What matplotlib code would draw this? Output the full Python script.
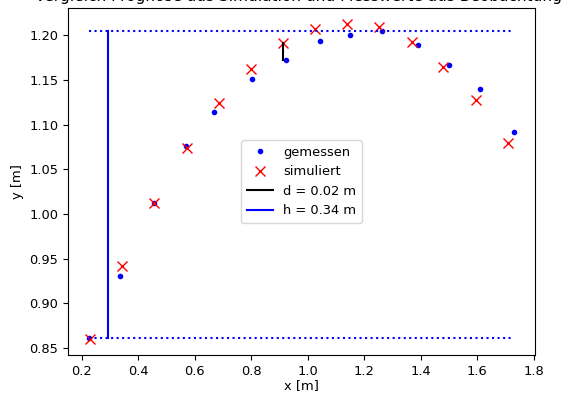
import matplotlib
matplotlib.use('Agg')
import matplotlib.pyplot as plt
import numpy as np

# measured points (blue) and simulated points (red)
x_meas = [0.226, 0.335, 0.454, 0.569, 0.668, 0.801, 0.922, 1.044, 1.150, 1.264, 1.389, 1.502, 1.609, 1.730]
y_meas = [0.861, 0.931, 1.012, 1.076, 1.114, 1.151, 1.173, 1.194, 1.200, 1.205, 1.189, 1.167, 1.140, 1.092]
x_sim = [0.228, 0.342, 0.457, 0.572, 0.685, 0.798, 0.913, 1.026, 1.140, 1.254, 1.369, 1.481, 1.596, 1.708]
y_sim = [0.860, 0.942, 1.013, 1.074, 1.124, 1.162, 1.191, 1.207, 1.213, 1.209, 1.193, 1.165, 1.128, 1.080]

# height marker position and deviation index
h_x = 0.293
d_idx = 6
d_label = 'd = 0.02 m'
h_label = 'h = 0.34 m'
title = 'Vergleich Prognose aus Simulation und Messwerte aus Beobachtung'

plt.rcParams['font.size'] = 9.4

fig = plt.figure(figsize=(5.64, 3.94), dpi=100)
ax = fig.add_axes([68/564, 39/394, 467/564, 347/394])

ax.plot(x_meas, y_meas, 'b.', label='gemessen')
ax.plot(x_sim, y_sim, 'rx', markersize=6.5, label='simuliert')

y_lo = min(y_meas)
y_hi = max(y_meas)
ax.plot([x_sim[d_idx], x_sim[d_idx]], [y_meas[d_idx], y_sim[d_idx]], 'k-', label=d_label)
ax.plot([h_x, h_x], [y_lo, y_hi], 'b-', label=h_label)
ax.plot([x_meas[0], x_meas[-1]], [y_hi, y_hi], 'b:')
ax.plot([x_meas[0], x_meas[-1]], [y_lo, y_lo], 'b:')

ax.set_xlabel('x [m]', labelpad=1)
ax.set_ylabel('y [m]')
ax.legend(loc='center')

# title is partly cut off at the top of the picture
fig.text(35/564, 1 - 1.5/394, title, fontsize=11.1, ha='left', va='baseline')

fig.savefig('out.png', dpi=100)
